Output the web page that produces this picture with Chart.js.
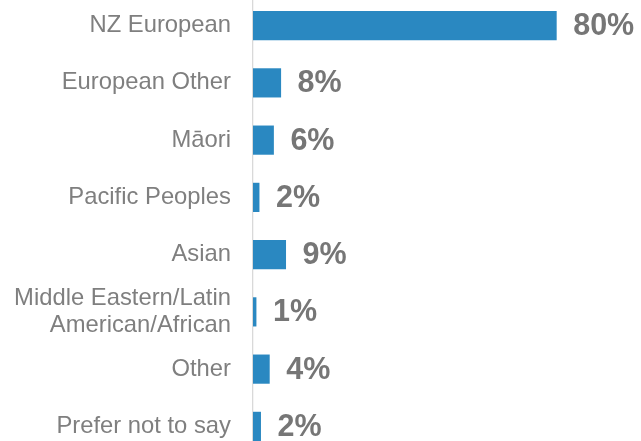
<!DOCTYPE html>
<html>
<head>
<meta charset="utf-8">
<script src="https://cdn.jsdelivr.net/npm/chart.js@4/dist/chart.umd.min.js"></script>
<style>
  html, body { margin: 0; padding: 0; background: #fff; overflow: hidden; }
  #wrap { position: absolute; left: 0; top: -3px; width: 641px; height: 458px; }
</style>
</head>
<body>
<div id="wrap"><canvas id="chartCanva"></canvas></div>
<script>
// categories (top to bottom)
const categories = [
    "NZ European",
    "European Other",
    "Māori",
    "Pacific Peoples",
    "Asian",
    ["Middle Eastern/Latin", "American/African"],
    "Other",
    "Prefer not to say",
];
// bar lengths (%)
const shares = [80, 7.4, 5.5, 1.7, 8.7, 0.9, 4.4, 2.1];
// labels printed next to each bar
const shareLabels = ["80%", "8%", "6%", "2%", "9%", "1%", "4%", "2%"];

const fontFamily = '"Liberation Sans", Arial, sans-serif';

// draws the percentage after each bar
const valueLabels = {
    id: "valueLabels",
    afterDatasetsDraw(chart) {
        const ctx = chart.ctx;
        const meta = chart.getDatasetMeta(0);
        ctx.save();
        ctx.font = "bold 30.5px " + fontFamily;
        ctx.fillStyle = "#767676";
        ctx.textAlign = "left";
        ctx.textBaseline = "middle";
        meta.data.forEach((bar, i) => {
            ctx.fillText(shareLabels[i], bar.x + 16.5, bar.y + 1);
        });
        ctx.restore();
    },
};

new Chart(document.getElementById("chartCanva"), {
    type: "bar",
    data: {
        labels: categories,
        datasets: [
            {
                data: shares,
                backgroundColor: "#2a88c1",
                categoryPercentage: 1,
                barPercentage: 0.51,
                clip: false,
            },
        ],
    },
    options: {
        indexAxis: "y",
        responsive: true,
        maintainAspectRatio: false,
        animation: false,
        layout: { padding: { top: 0, bottom: 0, left: 0, right: 8.4 } },
        plugins: {
            legend: { display: false },
            tooltip: { enabled: false },
        },
        scales: {
            x: {
                display: false,
                min: 0,
                max: 100,
            },
            y: {
                afterFit(scale) {
                    // fixed axis width, no extra room above/below the bands
                    scale.width = 253;
                    scale.paddingTop = 0;
                    scale.paddingBottom = 0;
                },
                grid: { display: false, drawTicks: false },
                border: { display: true, color: "#d9d9d9", width: 1.3 },
                ticks: {
                    padding: 22,
                    color: "#7f7f7f",
                    font: { family: fontFamily, size: 23.8, lineHeight: 1.12 },
                },
            },
        },
    },
    plugins: [valueLabels],
});
</script>
</body>
</html>
